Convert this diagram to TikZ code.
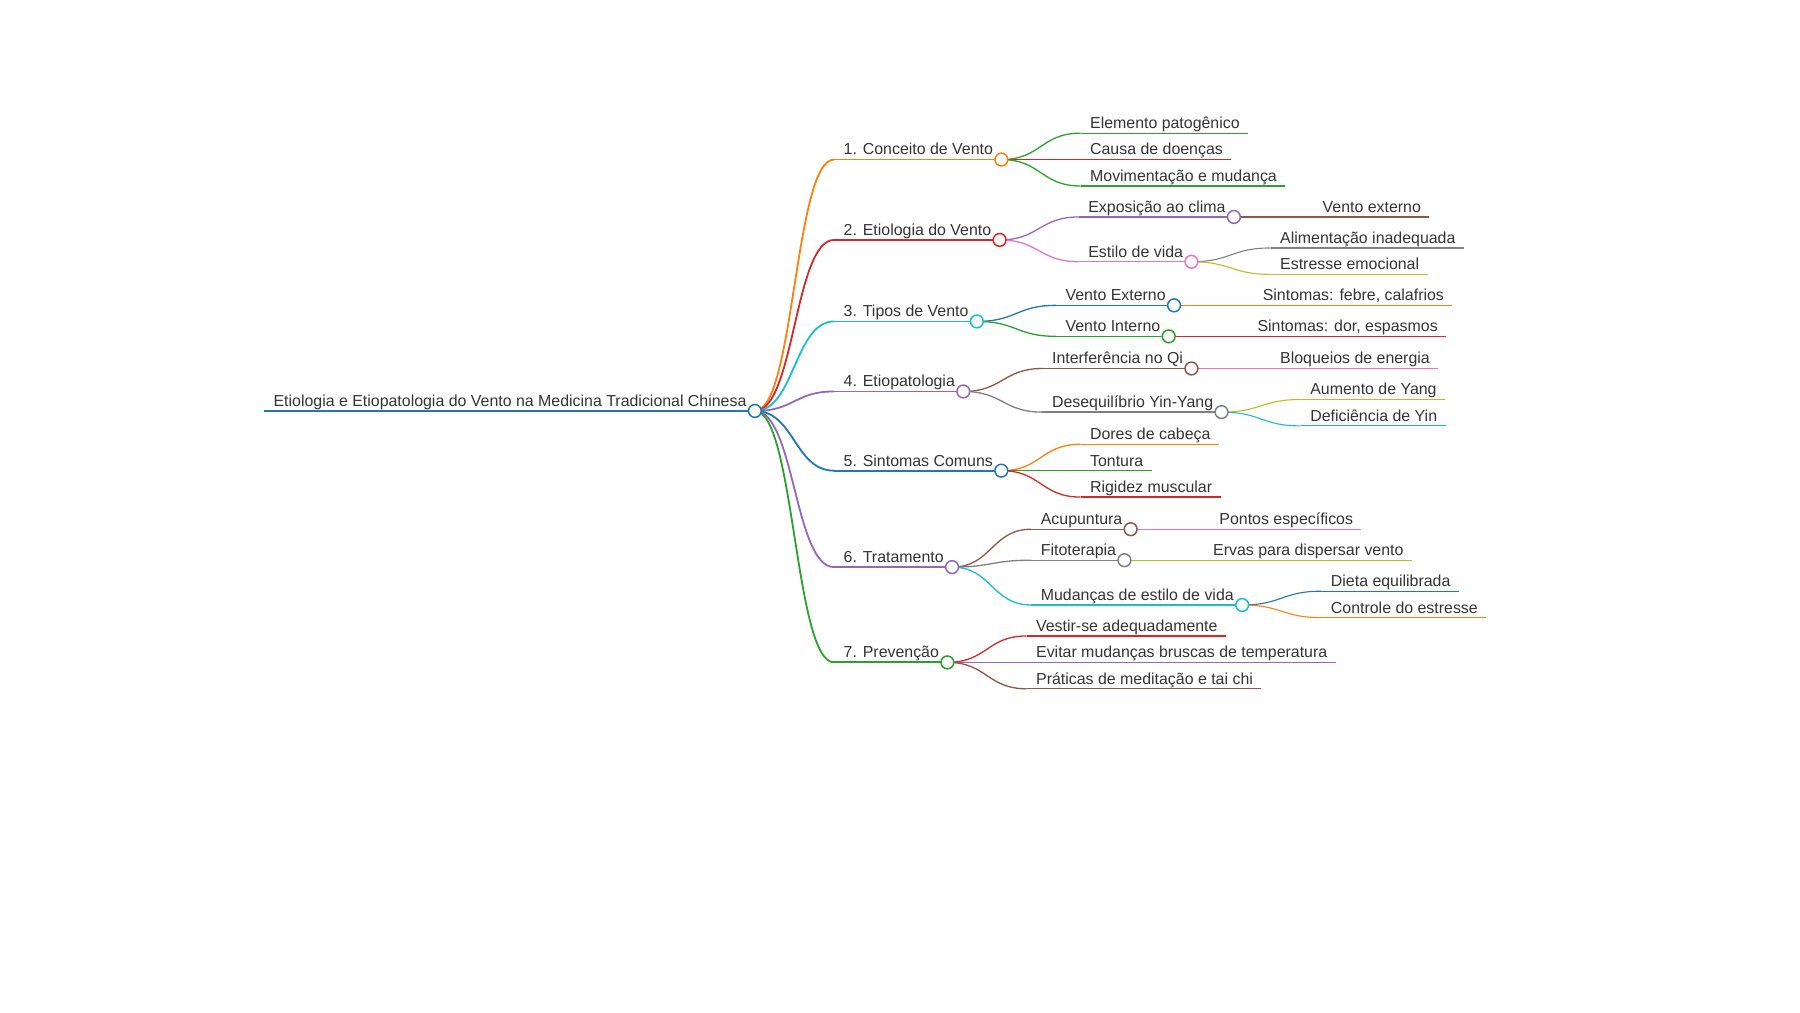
\documentclass[tikz,border=0pt]{standalone}
\usepackage{fontspec}
\setmainfont{Liberation Sans}
\usepackage{tikz}
\usetikzlibrary{calc}
\pgfdeclarelayer{front}
\pgfsetlayers{main,front}
\definecolor{cBlu}{HTML}{1F77B4}
\definecolor{cOra}{HTML}{FF7F0E}
\definecolor{cGre}{HTML}{2CA02C}
\definecolor{cRed}{HTML}{D62728}
\definecolor{cPur}{HTML}{9467BD}
\definecolor{cBro}{HTML}{8C564B}
\definecolor{cPin}{HTML}{E377C2}
\definecolor{cGra}{HTML}{7F7F7F}
\definecolor{cOli}{HTML}{BCBD22}
\definecolor{cCya}{HTML}{17BECF}
\definecolor{txt}{HTML}{333333}
\newcommand{\twig}[5]{%
  \path let \p1=(#1-e), \p2=(0,#4) in coordinate (#2-s) at (\x1+39.6pt,\y2);
  \node[lbl] (#2) at ($(#2-s)+(8,-4)$) {#5};
  \draw[#3] let \p1=(#1-e), \p2=(#2-s) in (\p1) .. controls ({(\x1+\x2)/2},\y1) and ({(\x1+\x2)/2},\y2) .. (\p2);
  \draw[#3] let \p1=(#2.east), \p2=(#2-s) in (\p2) -- (\x1+4pt,\y2) coordinate (#2-e);
}
\newcommand{\knot}[2]{%
  \begin{pgfonlayer}{front}\node[knob,draw=#2] (#1-o) at (#1-e) {};\end{pgfonlayer}%
}

\begin{document}
\begin{tikzpicture}[x=0.574pt,y=-0.574pt,
  lbl/.style={anchor=base west,inner sep=0pt,text=txt,font=\fontsize{7.96}{9.5}\selectfont},
  knob/.style={circle,fill=white,line width=0.75pt,minimum size=6.4pt,inner sep=0pt},
  lv0/.style={cBlu,line width=1.2pt},
  lvA/.style={line width=0.9pt},
  lvB/.style={line width=0.65pt},
  lvC/.style={line width=0.55pt}]
\useasboundingbox (0,0) rectangle (1568,882);
\coordinate (root-s) at (230,358);
\node[lbl] (root) at ($(root-s)+(8,-4)$) {Etiologia e Etiopatologia do Vento na Medicina Tradicional Chinesa};
\draw[lv0] let \p1=(root.east), \p2=(root-s) in (\p2) -- (\x1+4pt,\y2) coordinate (root-e);
\knot{root}{cBlu}

\twig{root}{conc}{lvA,cOra}{139}{1. Conceito de Vento}
\twig{root}{etio}{lvA,cRed}{209}{2. Etiologia do Vento}
\twig{root}{tipo}{lvA,cCya}{280}{3. Tipos de Vento}
\twig{root}{etpa}{lvA,cPur}{341}{4. Etiopatologia}
\twig{root}{sint}{lvA,cBlu}{410}{5. Sintomas Comuns}
\twig{root}{trat}{lvA,cPur}{494}{6. Tratamento}
\twig{root}{prev}{lvA,cGre}{577}{7. Prevenção}
\knot{conc}{cOra}\knot{etio}{cRed}\knot{tipo}{cCya}\knot{etpa}{cPur}
\knot{sint}{cBlu}\knot{trat}{cPur}\knot{prev}{cGre}

\twig{conc}{conc1}{lvB,cGre}{116}{Elemento patogênico}
\twig{conc}{conc2}{lvB,cRed}{139}{Causa de doenças}
\twig{conc}{conc3}{lvB,cGre}{162}{Movimentação e mudança}

\twig{etio}{expo}{lvB,cPur}{189}{Exposição ao clima}
\twig{etio}{esti}{lvB,cPin}{228}{Estilo de vida}
\knot{expo}{cPur}\knot{esti}{cPin}
\twig{expo}{expo1}{lvC,cBro}{189}{Vento externo}
\twig{esti}{esti1}{lvC,cGra}{216}{Alimentação inadequada}
\twig{esti}{esti2}{lvC,cOli}{239}{Estresse emocional}

\twig{tipo}{vext}{lvB,cBlu}{266}{Vento Externo}
\twig{tipo}{vint}{lvB,cGre}{293}{Vento Interno}
\knot{vext}{cBlu}\knot{vint}{cGre}
\twig{vext}{vext1}{lvC,cOra}{266}{Sintomas: febre, calafrios}
\twig{vint}{vint1}{lvC,cRed}{293}{Sintomas: dor, espasmos}

\twig{etpa}{intf}{lvB,cBro}{321}{Interferência no Qi}
\twig{etpa}{deseq}{lvB,cGra}{359}{Desequilíbrio Yin-Yang}
\knot{intf}{cBro}\knot{deseq}{cGra}
\twig{intf}{intf1}{lvC,cPin}{321}{Bloqueios de energia}
\twig{deseq}{deseq1}{lvC,cOli}{348}{Aumento de Yang}
\twig{deseq}{deseq2}{lvC,cCya}{371}{Deficiência de Yin}

\twig{sint}{sint1}{lvB,cOra}{387}{Dores de cabeça}
\twig{sint}{sint2}{lvB,cGre}{410}{Tontura}
\twig{sint}{sint3}{lvB,cRed}{433}{Rigidez muscular}

\twig{trat}{acup}{lvB,cBro}{461}{Acupuntura}
\twig{trat}{fito}{lvB,cGra}{488}{Fitoterapia}
\twig{trat}{muda}{lvB,cCya}{527}{Mudanças de estilo de vida}
\knot{acup}{cBro}\knot{fito}{cGra}\knot{muda}{cCya}
\twig{acup}{acup1}{lvC,cPin}{461}{Pontos específicos}
\twig{fito}{fito1}{lvC,cOli}{488}{Ervas para dispersar vento}
\twig{muda}{muda1}{lvC,cBlu}{515}{Dieta equilibrada}
\twig{muda}{muda2}{lvC,cOra}{538}{Controle do estresse}

\twig{prev}{prev1}{lvB,cRed}{554}{Vestir-se adequadamente}
\twig{prev}{prev2}{lvB,cPur}{577}{Evitar mudanças bruscas de temperatura}
\twig{prev}{prev3}{lvB,cBro}{600}{Práticas de meditação e tai chi}
\end{tikzpicture}
\end{document}
